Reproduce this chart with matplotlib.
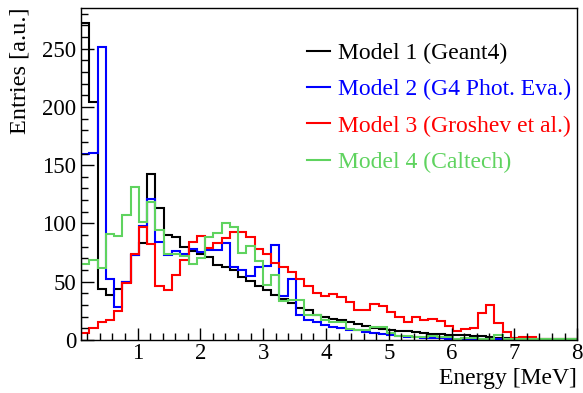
import numpy as np
import matplotlib.pyplot as plt
from matplotlib.ticker import MultipleLocator

plt.rcParams['font.family'] = ['Liberation Serif', 'DejaVu Serif']

# 60 bins from 0.1 to 8 MeV
edges = np.linspace(0.1, 8.0, 61)

model1 = [272, 204, 44, 39, 44, 50, 73, 83, 142, 113, 90, 88, 80, 76, 74, 71, 64, 63, 60, 54,
          51, 46, 43, 39, 35.5, 31.7, 27.7, 26, 21, 19.7, 18.2, 16.8, 15.4, 13.4, 11.6, 10.5, 9.6, 8.8, 7.6, 7.3,
          6.7, 6, 5.5, 5, 4.6, 4.3, 4, 3.5, 3, 2.5, 2, 1.8, 1.5, 1.2, 1, 0.8, 0.6, 0.5, 0.5, 0.4]
model2 = [160, 160.5, 251, 52.7, 28, 50, 73, 98, 121, 84, 73, 76.6, 74, 77.7, 75.7, 77, 77, 83.5, 63, 60,
          55, 63, 63.4, 81.5, 37.5, 51.9, 21, 17.4, 15.4, 12.5, 11, 10.5, 8.8, 8.3, 6.7, 6, 5, 4.2, 3, 2.5,
          2.2, 1.8, 1.5, 1.4, 1.2, 1, 0.8, 0.7, 0.6, 0.6, 0.5, 0.5, 0.4, 0.4, 0.3, 0.3, 0.3, 0.2, 0.2, 0.2]
model3 = [6, 10, 15.4, 16.8, 25, 49, 74, 97, 82, 46, 43, 55.6, 69, 84, 89, 78.6, 83.5, 87.8, 93, 93,
          88, 78, 74, 66, 63, 58.5, 52.7, 46, 40.4, 37.5, 39.2, 37, 32.6, 26, 26, 31, 29, 24, 20, 15.4,
          19.7, 17.4, 18, 16.4, 11.6, 7.3, 9, 10.5, 23, 29.7, 14.8, 6.7, 1.6, 2.4, 2.4, 1, 0.5, 0.5, 0.5, 0.5]
model4 = [65, 68.5, 62, 90.7, 89, 107, 131, 101.6, 118, 94.4, 73.7, 73.4, 72, 65, 70, 88.6, 91.5, 100, 97, 74.3,
          80.6, 68, 47, 55.6, 33, 34, 34, 21, 21, 16.8, 15.4, 15, 9.6, 8.8, 8.8, 11, 11, 6, 3, 3,
          2.5, 2.5, 3.5, 2.5, 2.5, 1, 1.5, 1.5, 1.2, 1.2, 4.5, 1, 0.8, 0.8, 0.8, 0.8, 0.8, 0.8, 0.8, 0.8]

labels = ['Model 1 (Geant4)', 'Model 2 (G4 Phot. Eva.)', 'Model 3 (Groshev et al.)', 'Model 4 (Caltech)']
colors = ['black', '#0000ff', '#ff0000', '#5fd35f']

fig = plt.figure(figsize=(5.83, 3.93), dpi=100)
ax = fig.add_axes([0.139, 0.135, 0.851, 0.845])

for vals, lab, col in zip([model1, model2, model3, model4], labels, colors):
    ax.stairs(vals, edges, color=col, lw=1.5, label=lab)

ax.set_xlim(0.1, 8)
ax.set_ylim(0, 285)
ax.xaxis.set_major_locator(MultipleLocator(1))
ax.xaxis.set_minor_locator(MultipleLocator(0.2))
ax.yaxis.set_major_locator(MultipleLocator(50))
ax.yaxis.set_minor_locator(MultipleLocator(10))
ax.tick_params(which='both', direction='in', top=False, right=False, labelsize=16.5, width=1)
ax.tick_params(which='major', length=9)
ax.tick_params(which='minor', length=5)
ax.tick_params(axis='x', pad=2)
for s in ax.spines.values():
    s.set_linewidth(1)

ax.set_xlabel('Energy [MeV]', fontsize=17, loc='right', labelpad=3)
ax.set_ylabel('Entries [a.u.]', fontsize=17.5, loc='top', labelpad=8)

leg = ax.legend(loc='upper left', bbox_to_anchor=(0.413, 0.96), frameon=False, fontsize=17,
                handlelength=0.95, handletextpad=0.35, labelspacing=0.63, labelcolor='linecolor')
for h in leg.legend_handles:
    h.set_linewidth(1.5)

fig.savefig('out.png', dpi=100)
